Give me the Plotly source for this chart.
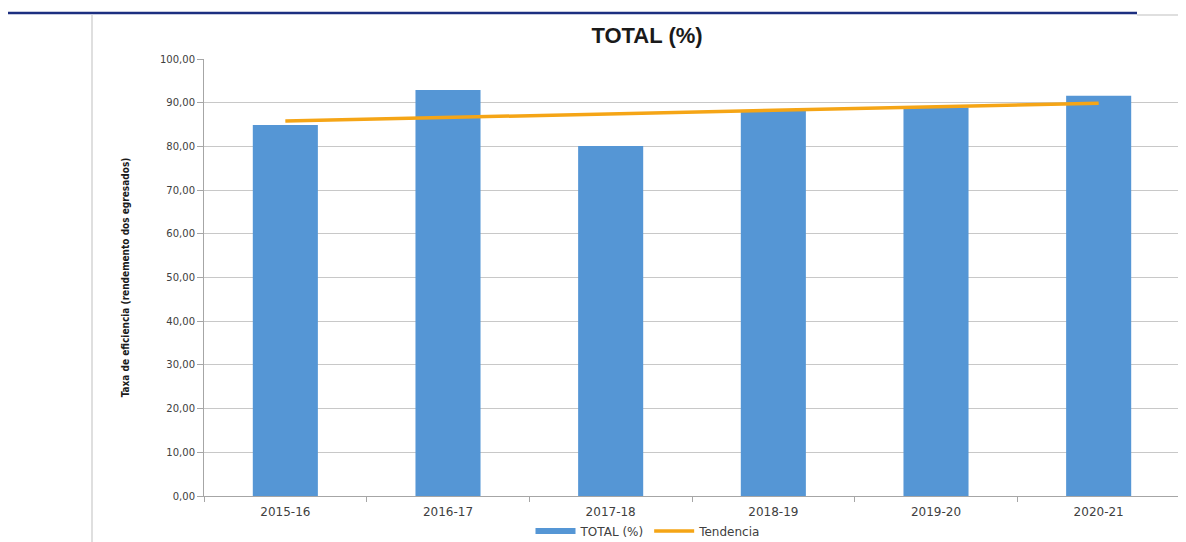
import plotly.graph_objects as go

categories = ["2015-16", "2016-17", "2017-18", "2018-19", "2019-20", "2020-21"]
total_values = [84.9, 92.9, 80.1, 88.2, 88.9, 91.6]
trend_categories = ["2015-16", "2020-21"]
trend_values = [85.8, 89.9]
y_ticks = [0, 10, 20, 30, 40, 50, 60, 70, 80, 90, 100]

W, H = 1186, 542
OFF = 8  # page body margin
# target screen positions of plot area
SL, SR, ST, SB = 204, 1180, 59, 496
L, T = SL - OFF, ST - OFF
R = W - (SR - OFF)
B = H - (SB - OFF)
pw, ph = W - L - R, H - T - B

def px(x):
    return (x - OFF - L) / pw

def py(y):
    return (H - B - (y - OFF)) / ph

fig = go.Figure()
fig.add_trace(go.Bar(
    x=categories, y=total_values, name="TOTAL (%)",
    marker=dict(color="#5596d5", line=dict(width=0)),
    width=0.4, showlegend=False,
))
fig.add_trace(go.Scatter(
    x=[None], y=[None], name="TOTAL (%)", mode="lines",
    line=dict(color="#5596d5", width=6),
))
fig.add_trace(go.Scatter(
    x=trend_categories, y=trend_values, name="Tendencia",
    mode="lines", line=dict(color="#f5a516", width=3.5),
))

tickfont_y = dict(family="DejaVu Sans", size=10, color="#404040")
tickfont_x = dict(family="DejaVu Sans", size=12, color="#404040")

fig.update_layout(
    width=W, height=H,
    margin=dict(l=L, r=R, t=T, b=B, autoexpand=False),
    paper_bgcolor="white", plot_bgcolor="white",
    separators=",.",
    showlegend=True,
    title=dict(text="<b>TOTAL (%)</b>", x=(647 - OFF) / W, xanchor="center",
               y=1 - (35 - OFF) / H, yanchor="middle",
               font=dict(family="Liberation Sans", size=22, color="#1a1a1a")),
    legend=dict(orientation="h", x=px(648), xanchor="center", y=py(531), yanchor="middle",
                font=dict(family="DejaVu Sans", size=12, color="#404040"),
                bgcolor="rgba(0,0,0,0)", itemwidth=40, traceorder="normal",
                tracegroupgap=0),
    xaxis=dict(
        type="category", range=[-0.5, 5.5],
        showline=True, linecolor="#a6a6a6", linewidth=1,
        ticks="outside", tickson="boundaries", ticklen=5, tickcolor="#a6a6a6",
        showgrid=False, tickfont=tickfont_x, ticklabelstandoff=5,
    ),
    yaxis=dict(
        range=[0, 100], tickvals=y_ticks, tickformat=".2f",
        showline=True, linecolor="#a6a6a6", linewidth=1,
        ticks="outside", ticklen=6, tickcolor="#a6a6a6",
        showgrid=True, gridcolor="#c8c8c8", gridwidth=1,
        tickfont=tickfont_y, zeroline=False,
        title=dict(text="<b>Taxa de eficiencia (rendemento dos egresados)</b>",
                   font=dict(family="DejaVu Sans Condensed", size=10, color="#1a1a1a"),
                   standoff=28),
    ),
)

fig.add_shape(type="line", xref="paper", yref="paper",
              x0=px(5), x1=px(1137), y0=py(13), y1=py(13),
              line=dict(color="#1c2f80", width=2.5))
fig.add_shape(type="line", xref="paper", yref="paper",
              x0=px(92), x1=px(92), y0=py(15), y1=py(548),
              line=dict(color="#bfbfbf", width=1))
fig.add_shape(type="line", xref="paper", yref="paper",
              x0=px(1137), x1=px(1190), y0=py(15), y1=py(15),
              line=dict(color="#bfbfbf", width=1))

fig.write_html("out.html")
